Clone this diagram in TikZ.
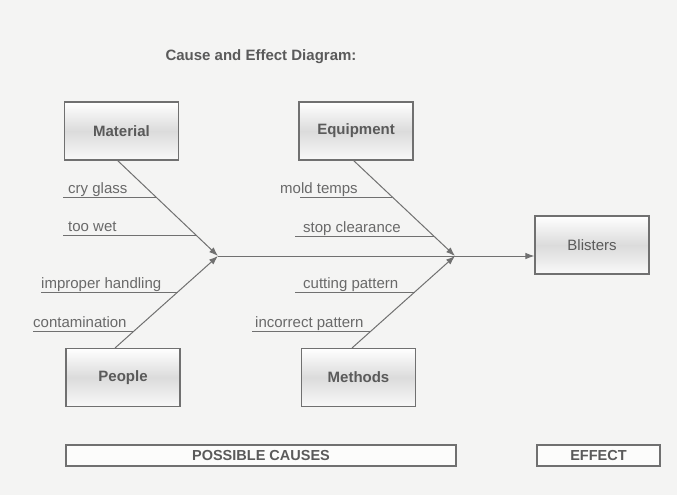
\documentclass[tikz,border=0pt]{standalone}
\usepackage{fontspec}
\setmainfont{Liberation Sans}
\usetikzlibrary{arrows.meta,calc}
\definecolor{bg}{RGB}{244,244,243}
\definecolor{ink}{RGB}{90,90,90}
\definecolor{lbl}{RGB}{105,105,105}
\definecolor{edge}{RGB}{112,112,112}
\begin{document}
\begin{tikzpicture}[x=1pt,y=-1pt,
  catbox/.style={draw=edge, line width=1.1pt, minimum width=114pt, minimum height=58pt,
    inner sep=0pt, top color=white, bottom color=white!95!gray, middle color=gray!28,
    text=ink, font=\bfseries\fontsize{15}{18}\selectfont},
  effbox/.style={catbox, font=\fontsize{15}{18}\selectfont},
  footbox/.style={draw=edge, line width=1.1pt, minimum height=21pt, inner sep=0pt,
    fill=white!70!bg, text=ink, font=\bfseries\fontsize{14.5}{17}\selectfont},
  cause/.style={anchor=base west, inner sep=0pt, text=lbl, font=\fontsize{15}{18}\selectfont},
  bone/.style={draw=edge, line width=1pt, -{Latex[length=9pt,width=6.5pt]}},
  uline/.style={draw=edge, line width=1pt}]
\useasboundingbox (0,0) rectangle (677,495);
\fill[bg] (0,0) rectangle (677,495);

% title
\node[text=ink, font=\bfseries\fontsize{15}{18}\selectfont] (title) at (261,57) {Cause and Effect Diagram:};

% category boxes
\node[catbox] (mat) at (121.5,131) {Material};
\node[catbox] (equ) at (356,131) {Equipment};
\node[catbox] (peo) at (123,377.5) {People};
\node[catbox] (met) at (358.5,377.5) {Methods};
\node[effbox] (bli) at (592,245) {Blisters};

% junctions
\coordinate (J1) at (218,256);
\coordinate (J2) at (455,256);
\coordinate (matS) at (117,160);
\coordinate (equS) at (353,160);
\coordinate (peoS) at (115,348);
\coordinate (metS) at (352,348);

% spine
\draw[bone] (J1) -- (J1 -| bli.west);

% bones
\draw[bone] (matS) -- (J1);
\draw[bone] (peoS) -- (J1);
\draw[bone] (equS) -- (J2);
\draw[bone] (metS) -- (J2);

% points on bones
\coordinate (m1) at ($(matS)!0.385!(J1)$);
\coordinate (m2) at ($(matS)!0.781!(J1)$);
\coordinate (e1) at ($(equS)!0.385!(J2)$);
\coordinate (e2) at ($(equS)!0.792!(J2)$);
\coordinate (p1) at ($(peoS)!0.609!(J1)$);
\coordinate (p2) at ($(peoS)!0.185!(J1)$);
\coordinate (t1) at ($(metS)!0.609!(J2)$);
\coordinate (t2) at ($(metS)!0.185!(J2)$);

% underline starts
\coordinate (m1s) at (63,197);
\coordinate (m2s) at (63,235);
\coordinate (e1s) at (300,197);
\coordinate (e2s) at (295,236);
\coordinate (p1s) at (41,292);
\coordinate (p2s) at (33,331);
\coordinate (t1s) at (295,292);
\coordinate (t2s) at (252,331);

\draw[uline] (m1s) -- (m1s -| m1);
\draw[uline] (m2s) -- (m2s -| m2);
\draw[uline] (e1s) -- (e1s -| e1);
\draw[uline] (e2s) -- (e2s -| e2);
\draw[uline] (p1s) -- (p1s -| p1);
\draw[uline] (p2s) -- (p2s -| p2);
\draw[uline] (t1s) -- (t1s -| t1);
\draw[uline] (t2s) -- (t2s -| t2);

% cause labels
\node[cause] (c1) at (68,193.5) {cry glass};
\node[cause] (c2) at (68,231.5) {too wet};
\node[cause] (c3) at (280,193.5) {mold temps};
\node[cause] (c4) at (303,232.5) {stop clearance};
\node[cause] (c5) at (41,288.5) {improper handling};
\node[cause] (c6) at (33,327.5) {contamination};
\node[cause] (c7) at (303,288.5) {cutting pattern};
\node[cause] (c8) at (255,327.5) {incorrect pattern};

% footer
\node[footbox, minimum width=390pt] (pc) at (261,455.5) {POSSIBLE CAUSES};
\node[footbox, minimum width=123pt] (ef) at (598.5,455.5) {EFFECT};
\end{tikzpicture}
\end{document}
